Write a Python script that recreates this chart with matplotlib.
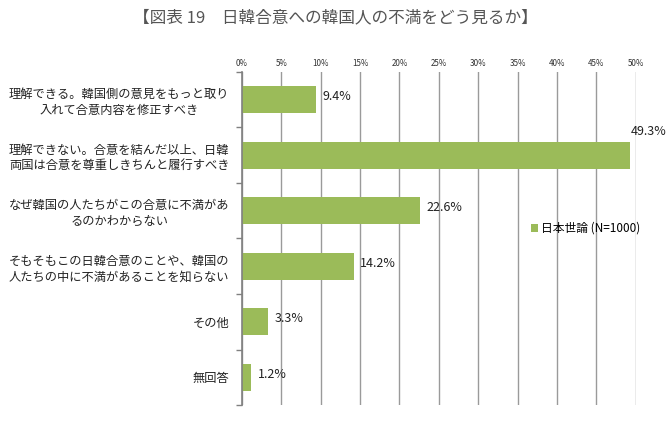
import matplotlib
matplotlib.use("Agg")
import matplotlib.pyplot as plt
import numpy as np
from matplotlib.ticker import FixedLocator

plt.rcParams['font.family'] = ['Noto Sans CJK JP', 'DejaVu Sans']

title = "【図表 19　日韓合意への韓国人の不満をどう見るか】"
categories = [
    "理解できる。韓国側の意見をもっと取り\n入れて合意内容を修正すべき",
    "理解できない。合意を結んだ以上、日韓\n両国は合意を尊重しきちんと履行すべき",
    "なぜ韓国の人たちがこの合意に不満があ\nるのかわからない",
    "そもそもこの日韓合意のことや、韓国の\n人たちの中に不満があることを知らない",
    "その他",
    "無回答",
]
values = [9.4, 49.3, 22.6, 14.2, 3.3, 1.2]
series_name = "日本世論 (N=1000)"
xticks = [0, 5, 10, 15, 20, 25, 30, 35, 40, 45, 50]

fig = plt.figure(figsize=(6.7, 4.21), dpi=100)
ax = fig.add_axes([0.361, 0.038, 0.588, 0.791])

y = np.arange(len(categories))
ax.barh(y, values, height=0.48, color='#9BBB59', zorder=2, label=series_name)
ax.set_ylim(len(categories) - 0.5, -0.5)
ax.set_xlim(0, 50)

ax.set_xticks(xticks)
ax.set_xticklabels([f"{t}%" for t in xticks], fontsize=5.8, color='#333333')
ax.xaxis.tick_top()
ax.tick_params(axis='x', length=0, pad=3)
ax.grid(axis='x', color='#9a9a9a', linewidth=1.0, zorder=1)
ax.set_axisbelow(True)

ax.set_yticks(y)
ax.set_yticklabels(categories, fontsize=8.8, color='#222222', linespacing=1.25,
                   multialignment='center')
ax.tick_params(axis='y', which='major', length=0, pad=9)
ax.yaxis.set_minor_locator(FixedLocator(np.arange(-0.5, len(categories), 1.0)))
ax.tick_params(axis='y', which='minor', length=4, width=1, color='#808080')

for s in ['top', 'right', 'bottom']:
    ax.spines[s].set_visible(False)
ax.spines['left'].set_color('#808080')
ax.spines['left'].set_linewidth(1.2)

for yi, v in zip(y, values):
    if v > 45:
        ax.text(v, yi - 0.42, f"{v:.1f}%", va='center', ha='left',
                fontsize=9, color='#222222', zorder=3)
    else:
        ax.text(v + 0.8, yi - 0.05, f"{v:.1f}%", va='center', ha='left',
                fontsize=9, color='#222222', zorder=3)

ax.legend(loc='center left', bbox_to_anchor=(0.733, 0.53), frameon=False,
          fontsize=8.5, handlelength=0.6, handleheight=0.6, handletextpad=0.3,
          borderpad=0, borderaxespad=0)

fig.text(0.5, 0.958, title, ha='center', va='center', fontsize=12, color='#555555')

fig.savefig("out.png", dpi=100)
